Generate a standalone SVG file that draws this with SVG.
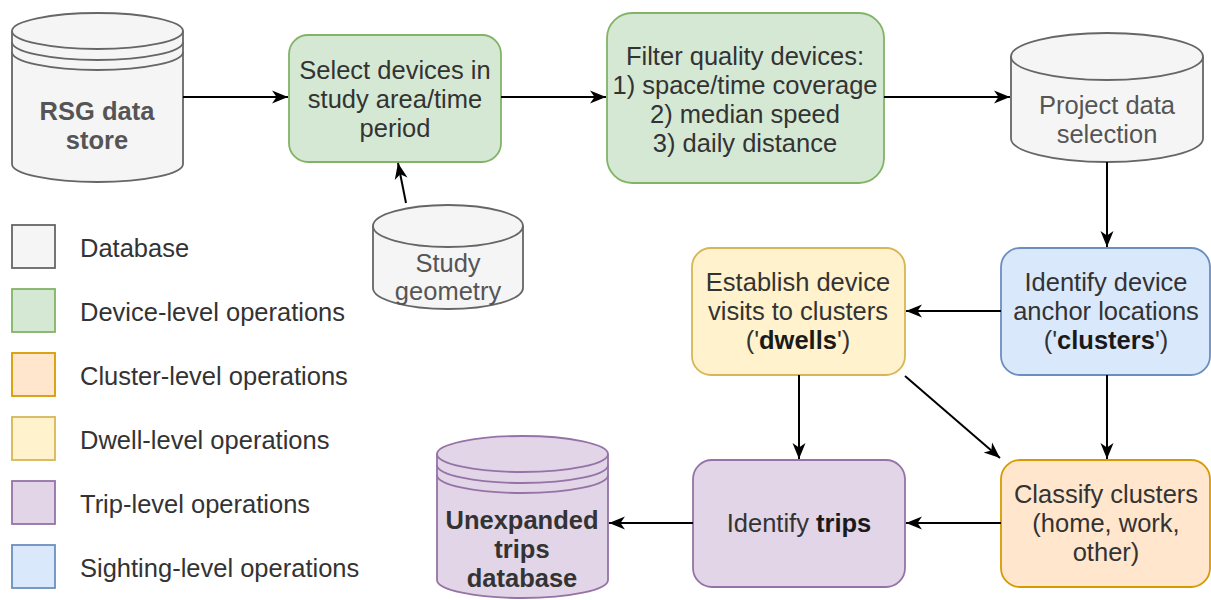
<svg xmlns="http://www.w3.org/2000/svg" width="1211" height="600" viewBox="0 0 1211 600">
  <style>
    text { font-family: "Liberation Sans", Arial, sans-serif; font-size: 25.5px; fill: #333333; text-anchor: middle; }
    .legend text { text-anchor: start; }
    .db text { fill: #555555; }
    .bold { font-weight: bold; }
    .grey { fill: #f5f5f5; stroke: #666666; stroke-width: 1.8; }
    .green { fill: #d5e8d4; stroke: #82b366; stroke-width: 1.8; }
    .orange { fill: #ffe6cc; stroke: #d79b00; stroke-width: 1.8; }
    .yellow { fill: #fff2cc; stroke: #d6b656; stroke-width: 1.8; }
    .purple { fill: #e1d5e7; stroke: #9673a6; stroke-width: 1.8; }
    .blue { fill: #dae8fc; stroke: #6c8ebf; stroke-width: 1.8; }
    .line { fill: none; }
    .edge { fill: none; stroke: #000000; stroke-width: 2; marker-end: url(#arrow); }
  </style>
  <defs>
    <marker id="arrow" markerUnits="userSpaceOnUse" markerWidth="18" markerHeight="16" refX="17" refY="8" orient="auto">
      <path d="M1,1.5 L17,8 L1,14.5 L5.5,8 Z" fill="#000000"/>
    </marker>
  </defs>

  <!-- RSG data store -->
  <g id="rsg-store" class="db">
    <path class="grey" d="M12,31 A85.5,18 0 0 1 183,31 L183,164 A85.5,18 0 0 1 12,164 Z"/>
    <path class="grey line" d="M12,31 A85.5,18 0 0 0 183,31 M12,42 A85.5,18 0 0 0 183,42 M12,52 A85.5,18 0 0 0 183,52"/>
    <text x="97" y="120" class="bold">RSG data</text>
    <text x="97" y="149" class="bold">store</text>
  </g>

  <!-- Select devices -->
  <g id="select-devices">
    <rect class="green" x="289" y="35" width="212" height="127" rx="19"/>
    <text x="395" y="79">Select devices in</text>
    <text x="395" y="108">study area/time</text>
    <text x="395" y="137">period</text>
  </g>

  <!-- Filter quality devices -->
  <g id="filter-devices">
    <rect class="green" x="607" y="13" width="277" height="170" rx="25"/>
    <text x="745" y="65">Filter quality devices:</text>
    <text x="745" y="94">1) space/time coverage</text>
    <text x="745" y="123">2) median speed</text>
    <text x="745" y="152">3) daily distance</text>
  </g>

  <!-- Project data selection -->
  <g id="project-data" class="db">
    <path class="grey" d="M1011,56.5 A96,23.5 0 0 1 1203,56.5 L1203,138.5 A96,23.5 0 0 1 1011,138.5 Z"/>
    <path class="grey line" d="M1011,56.5 A96,23.5 0 0 0 1203,56.5"/>
    <text x="1107" y="114">Project data</text>
    <text x="1107" y="143">selection</text>
  </g>

  <!-- Study geometry -->
  <g id="study-geometry" class="db">
    <path class="grey" d="M373,226 A75,21 0 0 1 523,226 L523,288 A75,21 0 0 1 373,288 Z"/>
    <path class="grey line" d="M373,226 A75,21 0 0 0 523,226"/>
    <text x="448" y="272">Study</text>
    <text x="448" y="300">geometry</text>
  </g>

  <!-- Identify device anchor locations -->
  <g id="identify-clusters">
    <rect class="blue" x="1001" y="248" width="209" height="127" rx="19"/>
    <text x="1106" y="291">Identify device</text>
    <text x="1106" y="320">anchor locations</text>
    <text x="1106" y="349">('<tspan class="bold" fill="#1a1a1a">clusters</tspan>')</text>
  </g>

  <!-- Establish device visits -->
  <g id="establish-dwells">
    <rect class="yellow" x="692" y="248" width="213" height="127" rx="19"/>
    <text x="798" y="291">Establish device</text>
    <text x="798" y="320">visits to clusters</text>
    <text x="798" y="349">('<tspan class="bold" fill="#1a1a1a">dwells</tspan>')</text>
  </g>

  <!-- Classify clusters -->
  <g id="classify-clusters">
    <rect class="orange" x="1001" y="460" width="209" height="127" rx="19"/>
    <text x="1106" y="503">Classify clusters</text>
    <text x="1106" y="532">(home, work,</text>
    <text x="1106" y="561">other)</text>
  </g>

  <!-- Identify trips -->
  <g id="identify-trips">
    <rect class="purple" x="693" y="460" width="212" height="127" rx="19"/>
    <text x="799" y="532">Identify <tspan class="bold" fill="#1a1a1a">trips</tspan></text>
  </g>

  <!-- Unexpanded trips database -->
  <g id="trips-database">
    <path class="purple" d="M437,454 A85.5,18 0 0 1 608,454 L608,580 A85.5,18 0 0 1 437,580 Z"/>
    <path class="purple line" d="M437,454 A85.5,18 0 0 0 608,454 M437,465 A85.5,18 0 0 0 608,465 M437,475 A85.5,18 0 0 0 608,475"/>
    <text x="522" y="529" class="bold">Unexpanded</text>
    <text x="522" y="558" class="bold">trips</text>
    <text x="522" y="587" class="bold">database</text>
  </g>

  <!-- Legend -->
  <g id="legend" class="legend">
    <rect class="grey" x="12" y="225" width="43" height="43"/>
    <text x="80" y="257">Database</text>
    <rect class="green" x="12" y="289" width="43" height="43"/>
    <text x="80" y="321">Device-level operations</text>
    <rect class="orange" x="12" y="353" width="43" height="43"/>
    <text x="80" y="385">Cluster-level operations</text>
    <rect class="yellow" x="12" y="417" width="43" height="43"/>
    <text x="80" y="449">Dwell-level operations</text>
    <rect class="purple" x="12" y="481" width="43" height="43"/>
    <text x="80" y="513">Trip-level operations</text>
    <rect class="blue" x="12" y="545" width="43" height="43"/>
    <text x="80" y="577">Sighting-level operations</text>
  </g>

  <!-- Connectors -->
  <g id="connectors">
    <path class="edge" d="M183,97 L288,97"/>
    <path class="edge" d="M501,97 L606,97"/>
    <path class="edge" d="M884,97 L1010,97"/>
    <path class="edge" d="M406,203 L398,163"/>
    <path class="edge" d="M1107,162 L1107,247"/>
    <path class="edge" d="M1001,311 L906,311"/>
    <path class="edge" d="M799,375 L799,459"/>
    <path class="edge" d="M905,376 L1000,458"/>
    <path class="edge" d="M1107,375 L1107,459"/>
    <path class="edge" d="M1001,523 L906,523"/>
    <path class="edge" d="M693,523 L609,523"/>
  </g>
</svg>
